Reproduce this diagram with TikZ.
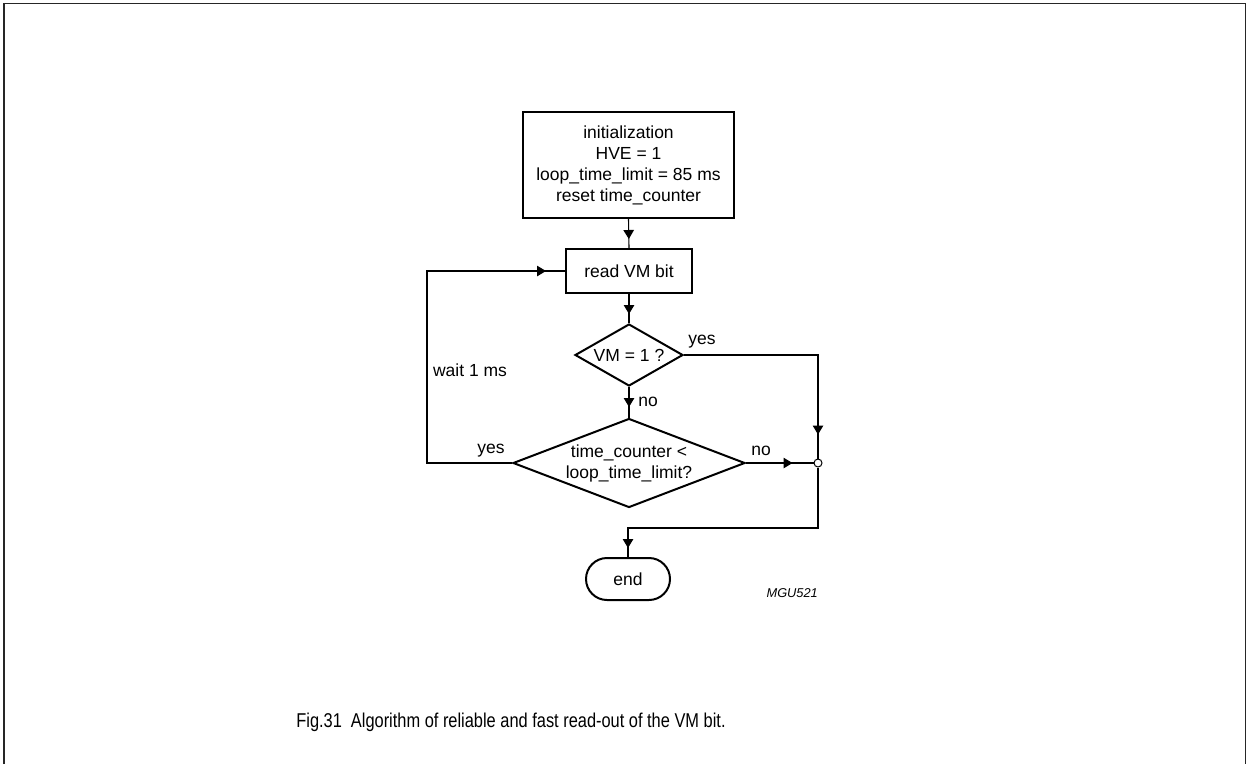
\documentclass[tikz,border=0pt]{standalone}
\usepackage{fontspec}
\setmainfont{Liberation Sans}
\usetikzlibrary{shapes.geometric,arrows.meta,decorations.markings}
\tikzset{
  box/.style={draw, line width=2pt, inner sep=0pt, align=center, font=\fontsize{17.5}{21}\selectfont},
  dia/.style={draw, diamond, line width=2pt, inner sep=0pt},
  txt/.style={inner sep=0pt, align=center, font=\fontsize{17.5}{21}\selectfont},
  conn/.style={line width=1.1pt},
  tipat/.style={postaction={decorate}, decoration={markings, mark=at position #1 with {\arrow{Triangle[length=9pt,width=10.5pt]}}}},
}
\begin{document}
\begin{tikzpicture}[x=1pt,y=-1pt]
\useasboundingbox (0,0) rectangle (1247,764);
% frame
\draw[line width=1.6pt, color=black!85] (4,764) -- (4,3.5) -- (1245.5,3.5) -- (1245.5,764);

% nodes
\node[box, minimum width=211pt, minimum height=106pt] (init) at (628.5,165)
  {initialization\\HVE = 1\\loop\_time\_limit = 85 ms\\reset time\_counter};
\node[box, minimum width=126pt, minimum height=44pt] (read) at (629,271) {read VM bit};
\node[dia, minimum width=108pt, minimum height=62pt] (d1) at (629,355) {};
\node[txt] (d1t) at (629,355) {VM = 1 ?};
\node[dia, minimum width=232pt, minimum height=89pt] (d2) at (629,463) {};
\node[txt] (d2t) at (629,463) {time\_counter <\\loop\_time\_limit?};
\node[box, minimum width=84pt, minimum height=42pt, rounded corners=21pt] (endn) at (628,579) {end};
\node[circle, draw, line width=1pt, fill=white, minimum size=8pt, inner sep=0pt] (jn) at (818,463) {};
\coordinate (lp) at (427,463);
\coordinate (mg) at (818,528);

% connectors
\draw[conn, tipat=20pt] (init.south) -- (read.north);
\draw[conn, tipat=20pt] (read.south) -- (d1.north);
\draw[conn, tipat=20pt] (d1.south) -- (d2.north);
\draw[conn, tipat=-24pt] (d1.east) -| (jn.north);
\draw[conn, tipat=-21pt] (d2.east) -- (jn.west);
\draw[conn, tipat=-19pt] (d2.west) -- (lp) |- (read.west);
\draw[conn, tipat=-9pt] (jn.south) -- (mg) -| (endn.north);

% labels
\node[txt] (lyes1) at (702,342) {yes};
\node[txt] (lno1) at (648,402) {no};
\node[txt] (lno2) at (761,451) {no};
\node[txt] (lyes2) at (491,451) {yes};
\node[txt] (lwait) at (470,370) {wait 1 ms};
\node[inner sep=0pt, anchor=east, font=\fontsize{12.8}{14}\selectfont\itshape] (code) at (818,593) {MGU521};

% caption
\node[inner sep=0pt, xscale=0.82, font=\fontsize{20}{24}\selectfont] (cap) at (511,722)
  {Fig.31\hspace{0.55em}Algorithm of reliable and fast read-out of the VM bit.};
\end{tikzpicture}
\end{document}
